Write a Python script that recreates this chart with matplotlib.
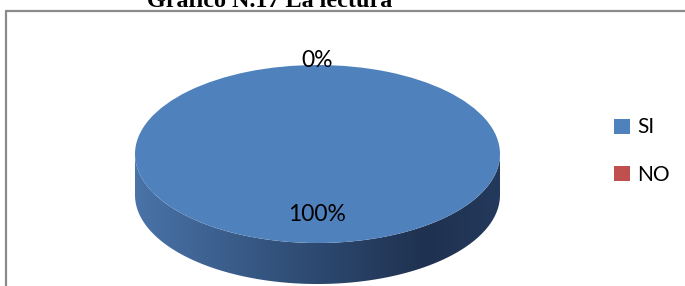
import numpy as np
import matplotlib
matplotlib.use("Agg")
import matplotlib.pyplot as plt
from matplotlib.patches import Polygon, Patch
from matplotlib.colors import LinearSegmentedColormap

# chart data
categories = ["SI", "NO"]
values = [100, 0]
pct_labels = ["100%", "0%"]
colors = ["#4f81bd", "#c0504d"]
title = "Gráfico N.17 La lectura"

W, H = 685, 286
fig = plt.figure(figsize=(W / 100, H / 100), dpi=100)

# background axes in pixel units, for the chart frame
bg = fig.add_axes([0, 0, 1, 1])
bg.set_xlim(0, W)
bg.set_ylim(H, 0)
bg.axis("off")
bg.plot([6, W], [10.5, 10.5], color="#8a8a8a", lw=1.6, solid_capstyle="butt")
bg.plot([6.5, 6.5], [10, H], color="#8a8a8a", lw=1.6, solid_capstyle="butt")

fig.text(270 / W, 1 - 7 / H, title, ha="center", va="baseline",
         family="Liberation Serif", weight="bold", fontsize=17.4)

# pie axes: unit circle maps onto the top ellipse of the 3d pie
cx, cy, rx, ry, depth = 317.5, 154, 182.5, 89, 41
ax = fig.add_axes([0, 0, 1, 1])
wedges, _ = ax.pie(values, colors=colors, startangle=90, counterclock=False,
                   wedgeprops=dict(linewidth=0), radius=1)
ax.set_aspect("auto")
ax.set_xlim(-cx / rx, (W - cx) / rx)
ax.set_ylim(-(H - cy) / ry, cy / ry)
ax.axis("off")

# side of the cylinder, shaded with a horizontal gradient
d = depth / ry
t = np.linspace(np.pi, 2 * np.pi, 200)
top = np.column_stack([np.cos(t), np.sin(t)])
bottom = np.column_stack([np.cos(t[::-1]), np.sin(t[::-1]) - d])
side = Polygon(np.vstack([top, bottom]), closed=True, facecolor="none",
               edgecolor="none")
ax.add_patch(side)
cmap = LinearSegmentedColormap.from_list(
    "side", [(0, "#4a73a8"), (0.45, "#2f4d75"), (0.8, "#1f3150"), (1, "#243a5c")])
grad = np.linspace(0, 1, 256).reshape(1, -1)
img = ax.imshow(grad, cmap=cmap, extent=[-1, 1, -1 - d, 0.1], aspect="auto",
                zorder=0.5)
img.set_clip_path(side)
for w in wedges:
    w.set_zorder(1)

# percentage labels at the middle angle of each slice
total = sum(values)
cum = 0
dists = [0.68, 1.055]
for v, lab, r in zip(values, pct_labels, dists):
    mid = np.deg2rad(90 - 360 * (cum + v / 2) / total)
    cum += v
    ax.text(r * np.cos(mid), r * np.sin(mid), lab, ha="center", va="center",
            family="Lato", fontsize=16.5, zorder=3)

handles = [Patch(facecolor=c, edgecolor="none") for c in colors]
fig.legend(handles, categories, loc="center left",
           bbox_to_anchor=(604 / W, 1 - 151 / H), frameon=False,
           prop=dict(family="Lato", size=15), handlelength=0.75,
           handleheight=0.75, handletextpad=0.35, labelspacing=1.3,
           borderpad=0)

fig.savefig("out.png", dpi=100, facecolor="white")
